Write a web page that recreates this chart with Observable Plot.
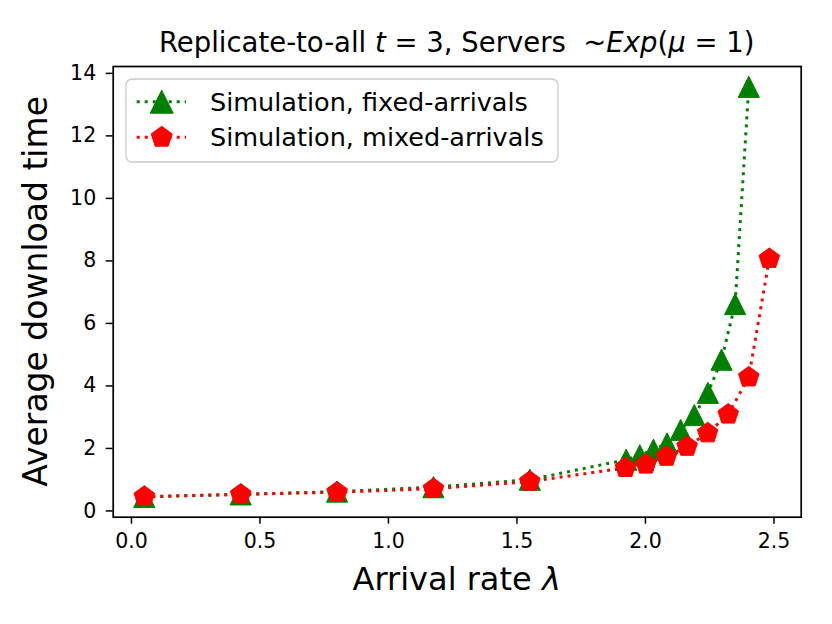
<!DOCTYPE html>
<html>
<head>
<meta charset="utf-8">
<script src="https://cdn.jsdelivr.net/npm/d3@7"></script>
<script src="https://cdn.jsdelivr.net/npm/@observablehq/plot@0.6"></script>
<style>
  html, body { margin: 0; padding: 0; background: #fff; }
  #chart { width: 832px; height: 624px; }
  svg { font-family: "DejaVu Sans", sans-serif; }
</style>
</head>
<body>
<div id="chart"></div>
<script>
// ---- data ----
const fixedX = [0.05, 0.425, 0.8, 1.175, 1.55, 1.925, 1.978, 2.031, 2.084, 2.137, 2.19, 2.243, 2.296, 2.349, 2.402];
const fixedY = [0.45, 0.53, 0.62, 0.76, 1.0, 1.64, 1.78, 1.96, 2.16, 2.59, 3.07, 3.78, 4.84, 6.62, 13.57];
const mixedX = [0.05, 0.425, 0.8, 1.175, 1.55, 1.922, 2.002, 2.082, 2.162, 2.242, 2.322, 2.402, 2.482];
const mixedY = [0.46, 0.53, 0.60, 0.71, 0.94, 1.38, 1.49, 1.74, 2.06, 2.49, 3.09, 4.28, 8.07];
const xTicks = [0, 0.5, 1.0, 1.5, 2.0, 2.5];
const yTicks = [0, 2, 4, 6, 8, 10, 12, 14];
const seriesNames = ["Simulation, fixed-arrivals", "Simulation, mixed-arrivals"];
const seriesColors = ["#008000", "#ff0000"];

const fixed = fixedX.map((x, i) => ({x, y: fixedY[i]}));
const mixed = mixedX.map((x, i) => ({x, y: mixedY[i]}));

// matplotlib-like markers
const triSym = {draw(ctx, size) { const s = Math.sqrt(size / Math.PI); ctx.moveTo(0, -s); ctx.lineTo(s, s); ctx.lineTo(-s, s); ctx.closePath(); }};
const pentSym = {draw(ctx, size) { const s = Math.sqrt(size / Math.PI);
  for (let k = 0; k < 5; k++) { const a = -Math.PI / 2 + k * 2 * Math.PI / 5; const px = s * Math.cos(a), py = s * Math.sin(a); k ? ctx.lineTo(px, py) : ctx.moveTo(px, py); }
  ctx.closePath(); }};

const dash = "3,5";
const ml = 112.7, mr = 31.3, mt = 66, mb = 107.3;

const svg = Plot.plot({
  width: 832, height: 624,
  marginLeft: ml, marginRight: mr, marginTop: mt, marginBottom: mb,
  style: {fontFamily: "DejaVu Sans, sans-serif", background: "white", color: "black"},
  x: {domain: [-0.071, 2.606]},
  y: {domain: [-0.2, 14.22]},
  marks: [
    Plot.axisX({ticks: xTicks, tickFormat: d3.format(".1f"), tickSize: 7, tickPadding: 9, fontSize: 20.5, strokeWidth: 1.5, label: null}),
    Plot.axisY({ticks: yTicks, tickFormat: d => String(d), tickSize: 7, tickPadding: 10, fontSize: 20.5, strokeWidth: 1.5, label: null}),
    Plot.line(fixed, {x: "x", y: "y", stroke: seriesColors[0], strokeWidth: 3, strokeDasharray: dash, strokeLinecap: "butt"}),
    Plot.dot(fixed, {x: "x", y: "y", symbol: triSym, r: 10.6, fill: seriesColors[0], stroke: seriesColors[0], strokeWidth: 1}),
    Plot.line(mixed, {x: "x", y: "y", stroke: seriesColors[1], strokeWidth: 3, strokeDasharray: dash, strokeLinecap: "butt"}),
    Plot.dot(mixed, {x: "x", y: "y", symbol: pentSym, r: 10.8, fill: seriesColors[1], stroke: seriesColors[1], strokeWidth: 1}),
    Plot.frame({stroke: "black", strokeWidth: 1.7})
  ]
});

const s = d3.select(svg);
const cx = ml + (832 - ml - mr) / 2;

// title
const title = s.append("text").attr("x", cx).attr("y", 52).attr("text-anchor", "middle")
  .attr("font-size", 27.5).attr("fill", "black");
title.append("tspan").text("Replicate-to-all ");
title.append("tspan").attr("font-style", "italic").text("t");
title.append("tspan").text(" = 3, Servers  ~");
title.append("tspan").attr("font-style", "italic").text("Exp");
title.append("tspan").text("(");
title.append("tspan").attr("font-style", "italic").text("μ");
title.append("tspan").text(" = 1)");

// axis labels
const xl = s.append("text").attr("x", cx).attr("y", 590).attr("text-anchor", "middle").attr("font-size", 32).attr("fill", "black");
xl.append("tspan").text("Arrival rate ");
xl.append("tspan").attr("font-style", "italic").text("λ");
s.append("text").attr("transform", "translate(47," + (mt + (624 - mt - mb) / 2) + ") rotate(-90)")
  .attr("text-anchor", "middle").attr("font-size", 33).attr("fill", "black").text("Average download time");

// legend
const lg = s.append("g");
lg.append("rect").attr("x", 126).attr("y", 79).attr("width", 432).attr("height", 83).attr("rx", 6)
  .attr("fill", "white").attr("fill-opacity", 0.8).attr("stroke", "#cccccc").attr("stroke-width", 1.3);
const rows = [101.7, 137.3];
const syms = [triSym, pentSym];
const sizes = [11.5, 11];
rows.forEach((ry, i) => {
  lg.append("line").attr("x1", 136.7).attr("x2", 186).attr("y1", ry).attr("y2", ry)
    .attr("stroke", seriesColors[i]).attr("stroke-width", 3).attr("stroke-dasharray", dash);
  lg.append("path").attr("transform", `translate(161.7,${ry})`)
    .attr("d", d3.symbol(syms[i], Math.PI * sizes[i] * sizes[i])())
    .attr("fill", seriesColors[i]).attr("stroke", seriesColors[i]);
  lg.append("text").attr("x", 210).attr("y", ry).attr("dy", "0.35em").attr("text-anchor", "start")
    .attr("font-size", 25.5).attr("fill", "black").text(seriesNames[i]);
});

document.getElementById("chart").appendChild(svg);
</script>
</body>
</html>
